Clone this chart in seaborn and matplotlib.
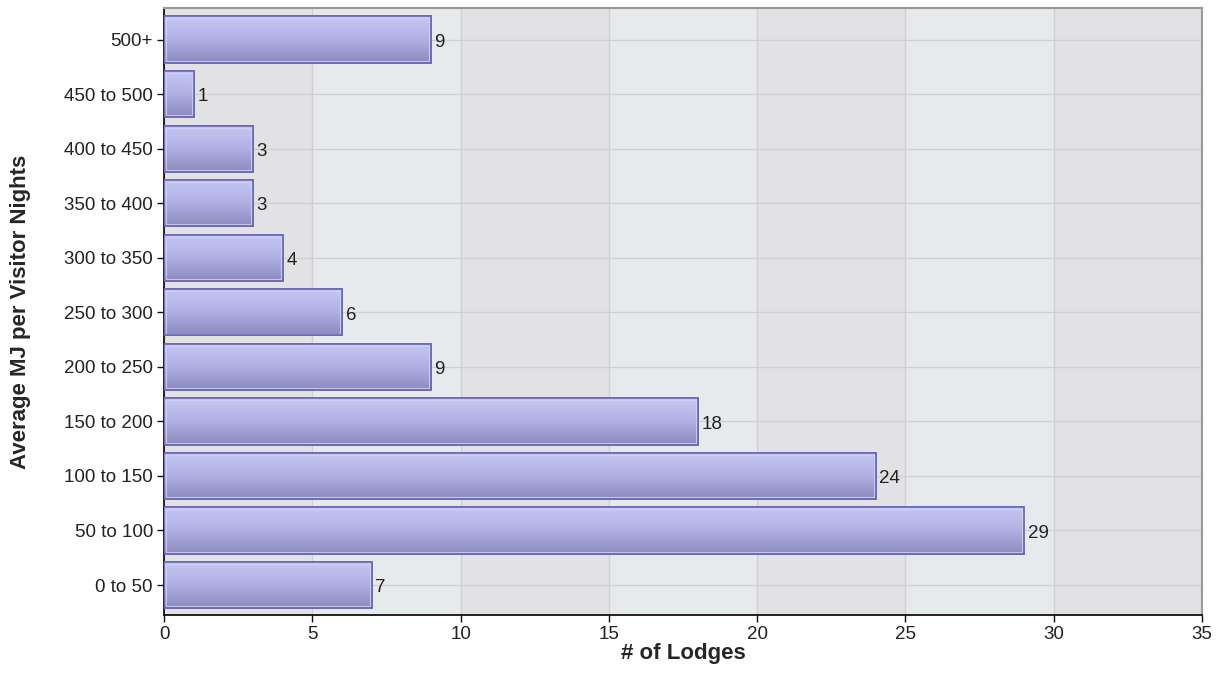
import numpy as np
import pandas as pd
import matplotlib
matplotlib.use("Agg")
import matplotlib.pyplot as plt
import seaborn as sns

# datos
categorias = ["500+", "450 to 500", "400 to 450", "350 to 400", "300 to 350",
              "250 to 300", "200 to 250", "150 to 200", "100 to 150",
              "50 to 100", "0 to 50"]
lodges = [9, 1, 3, 3, 4, 6, 9, 18, 24, 29, 7]
xticks = [0, 5, 10, 15, 20, 25, 30, 35]

df = pd.DataFrame({"rango": categorias, "lodges": lodges})

sns.set_theme(style="white")
plt.rcParams["font.family"] = ["Liberation Sans", "DejaVu Sans"]

fig = plt.figure(figsize=(12.24, 6.78), dpi=100)
ax = fig.add_axes([164 / 1224, 1 - 615 / 678, (1202 - 164) / 1224, (615 - 8) / 678])

sns.barplot(data=df, x="lodges", y="rango", orient="h", order=categorias,
            color="#b0b0e0", width=0.85, edgecolor="#6a68b4", linewidth=1.2,
            ax=ax, zorder=3)
barras = list(ax.containers[0])

ax.set_xlim(0, 35)
ax.set_ylim(len(categorias) - 0.45, -0.58)

# bandas alternas de fondo
ax.set_facecolor("#e2e2e4")
for i in range(len(xticks) - 1):
    if i % 2 == 1:
        ax.axvspan(xticks[i], xticks[i + 1], color="#e7eaed", zorder=0, lw=0)

# degradado en cada barra
grad = np.linspace(0, 1, 64).reshape(-1, 1)
cmap = matplotlib.colors.LinearSegmentedColormap.from_list(
    "barra", ["#c6c6f4", "#b0b0e4", "#8c8abe"])
dx = 2 * 35 / 1038
dy = 2 * 11.03 / 607
for p in barras:
    x0, y0 = p.get_x(), p.get_y()
    w, h = p.get_width(), p.get_height()
    im = ax.imshow(grad, cmap=cmap, aspect="auto", extent=[x0, x0 + w, y0 + h, y0],
                   zorder=3.5, interpolation="bicubic")
    im.set_clip_path(p)
    # brillo interior
    ax.add_patch(plt.Rectangle((x0 + dx, y0 + dy), w - 2 * dx, h - 2 * dy, fill=False,
                               edgecolor="#d4d4f6", lw=0.8, alpha=0.8, zorder=3.8))
    ax.add_patch(plt.Rectangle((x0, y0), w, h, fill=False, edgecolor="#6a68b4",
                               lw=1.2, zorder=4))

for i, v in enumerate(lodges):
    ax.text(v + 0.12, i + 0.05, str(v), va="center", ha="left", fontsize=13.5,
            color="#222222", zorder=5)

ax.set_xticks(xticks)
ax.grid(True, color="#d0d0d0", lw=1, zorder=1)
ax.set_axisbelow(True)

for s in ["left", "bottom"]:
    ax.spines[s].set_color("#111111")
    ax.spines[s].set_linewidth(1.3)
for s in ["top", "right"]:
    ax.spines[s].set_color("#9a9a9a")
    ax.spines[s].set_linewidth(1.5)

ax.tick_params(axis="both", which="both", direction="out", length=5, width=1,
               color="#111111", labelsize=13.5, labelcolor="#222222",
               left=True, bottom=True, pad=3)
ax.set_xlabel("# of Lodges", fontsize=16, fontweight="bold", labelpad=0)
ax.set_ylabel("Average MJ per Visitor Nights", fontsize=16, fontweight="bold",
              labelpad=24)

fig.savefig("out.png", dpi=100)
